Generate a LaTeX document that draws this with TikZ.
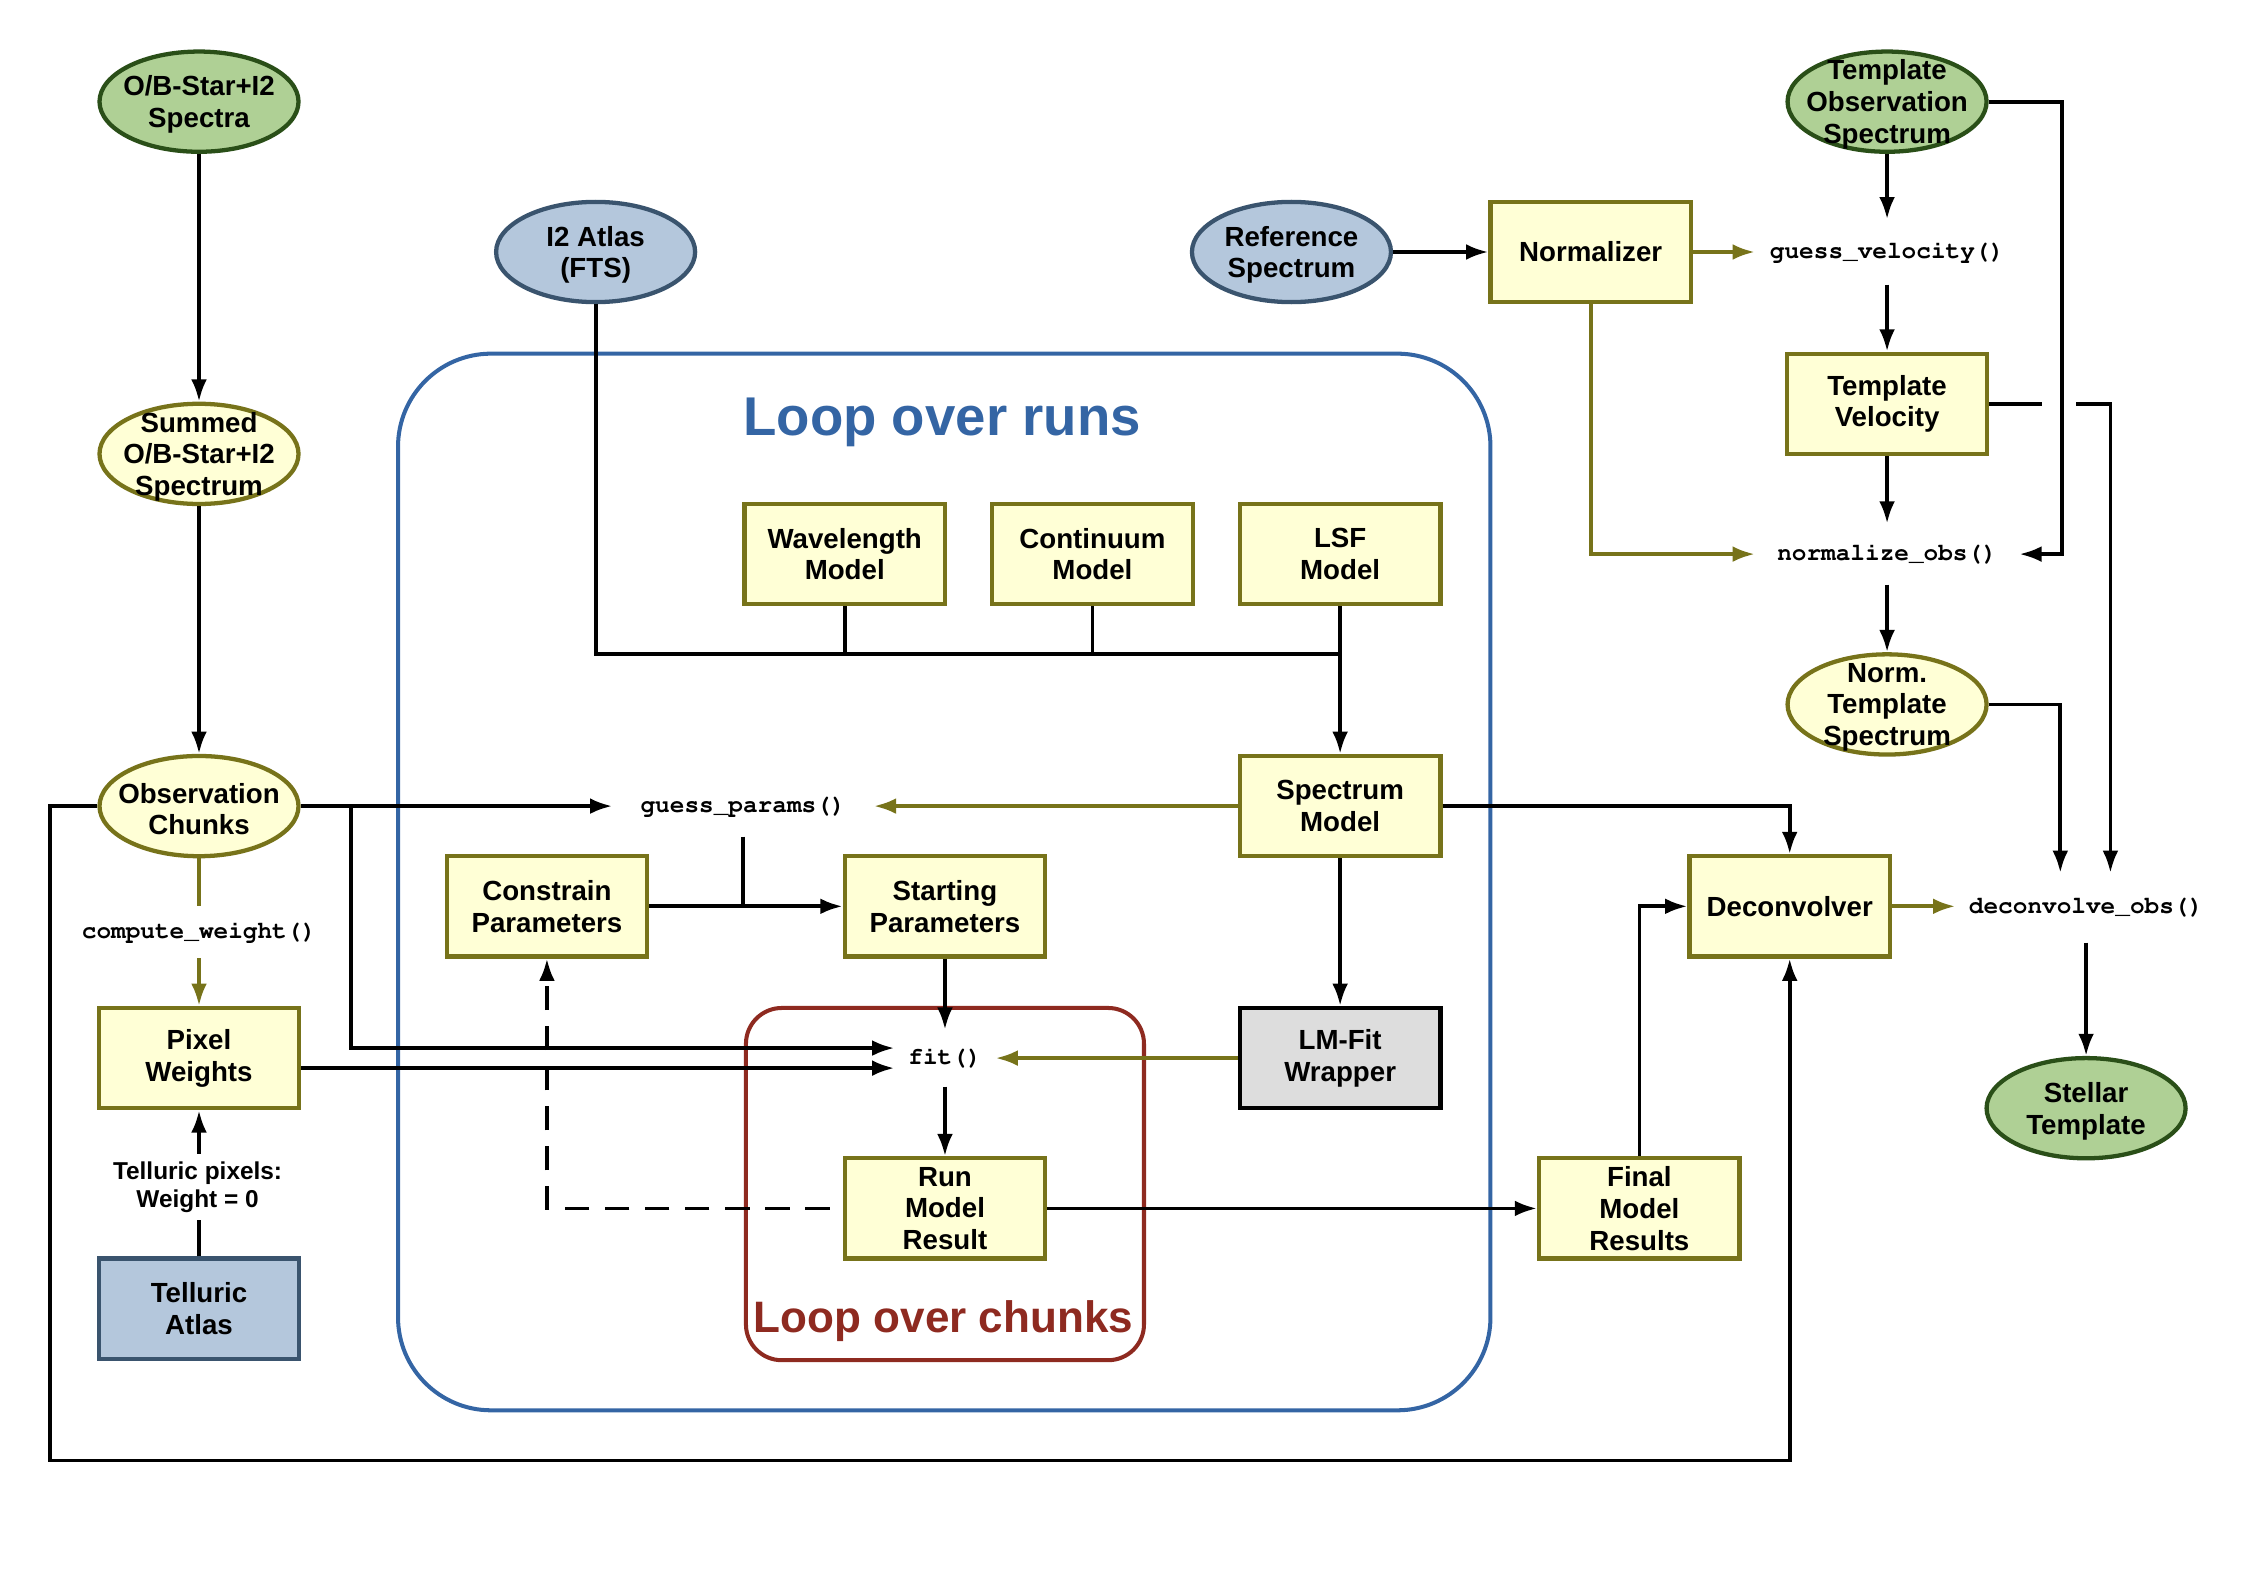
\documentclass[tikz,border=0pt]{standalone}
\usepackage[T1]{fontenc}
\usepackage{fontspec}
\setmainfont{Liberation Sans}
\setmonofont{Liberation Mono}
\usetikzlibrary{arrows.meta,calc,shapes.geometric}

\definecolor{ylwfill}{HTML}{FFFFD6}
\definecolor{olv}{HTML}{77731A}
\definecolor{grnfill}{HTML}{AFD095}
\definecolor{grnline}{HTML}{2A4F18}
\definecolor{bluefill}{HTML}{B4C7DC}
\definecolor{blueline}{HTML}{3A546E}
\definecolor{grayfill}{HTML}{DDDDDD}
\definecolor{runblue}{HTML}{3465A4}
\definecolor{chunkred}{HTML}{8E2A20}

% serif typewriter face for the function names
\newcommand{\codefont}{\fontencoding{T1}\fontfamily{pcr}\fontseries{b}\fontshape{n}\fontsize{9.7}{11}\selectfont}

\begin{document}
\begin{tikzpicture}[x=0.2mm,y=-0.2mm,
  every node/.style={font=\fontsize{11}{12.6}\selectfont\bfseries, align=center},
  box/.style={rectangle, draw=olv, fill=ylwfill, line width=1.7pt,
    minimum width=28mm, minimum height=14mm, inner sep=0pt},
  bluebox/.style={box, draw=blueline, fill=bluefill},
  graybox/.style={box, draw=black, fill=grayfill},
  oval/.style={ellipse, draw=olv, fill=ylwfill, line width=1.7pt,
    minimum width=27.8mm, minimum height=14mm, inner sep=0pt},
  greenoval/.style={oval, draw=grnline, fill=grnfill},
  blueoval/.style={oval, draw=blueline, fill=bluefill},
  ovaltext/.style={inner sep=0pt, yshift=-0.4mm},
  fn/.style={font=\codefont, inner sep=0pt},
  line/.style={draw=black, line width=1.5pt},
  arr/.style={line, -{Latex[length=3.1mm,width=2.2mm]}},
  oline/.style={draw=olv, line width=1.5pt},
  oarr/.style={oline, -{Latex[length=3.1mm,width=2.2mm]}},
  darr/.style={arr, dash pattern=on 3.4mm off 2.2mm},
  loopframe/.style={line width=1.6pt}
]
\useasboundingbox (0,0) rectangle (1568,1108);

% the two loop frames
\draw[loopframe, draw=runblue, rounded corners=13mm] (278,247) rectangle (1041,985);
\draw[loopframe, draw=chunkred, rounded corners=5mm] (521,704) rectangle (799,950);
\node[font=\fontsize{21.7}{24}\selectfont\bfseries, text=runblue] (runsT) at (658,295) {Loop over runs};
\node[font=\fontsize{17.5}{20}\selectfont\bfseries, text=chunkred] (chunksT) at (659,923) {Loop over chunks};

% data ellipses
\node[greenoval, label={[ovaltext]center:O/B-Star+I2\\Spectra}] (obstar) at (139,71) {};
\node[oval, label={[ovaltext]center:Summed\\O/B-Star+I2\\Spectrum}] (summed) at (139,317) {};
\node[oval, label={[ovaltext]center:Observation\\Chunks}] (obs) at (139,563) {};
\node[blueoval, label={[ovaltext]center:I2 Atlas\\(FTS)}] (i2) at (416,176) {};
\node[blueoval, label={[ovaltext]center:Reference\\Spectrum}] (ref) at (902,176) {};
\node[greenoval, label={[ovaltext]center:Template\\Observation\\Spectrum}] (tmpl) at (1318,71) {};
\node[oval, label={[ovaltext]center:Norm.\\Template\\Spectrum}] (ntmpl) at (1318,492) {};
\node[greenoval, label={[ovaltext]center:Stellar\\Template}] (stellar) at (1457,774) {};

% processing boxes
\node[box] (norm) at (1111,176) {Normalizer};
\node[box] (tv) at (1318,282) {Template\\Velocity};
\node[box] (wl) at (590,387) {Wavelength\\Model};
\node[box] (cm) at (763,387) {Continuum\\Model};
\node[box] (lsf) at (936,387) {LSF\\Model};
\node[box] (sm) at (936,563) {Spectrum\\Model};
\node[box] (cp) at (382,633) {Constrain\\Parameters};
\node[box] (sp) at (660,633) {Starting\\Parameters};
\node[graybox] (lm) at (936,739) {LM-Fit\\Wrapper};
\node[box] (rm) at (660,844) {Run\\Model\\Result};
\node[box] (fm) at (1145,844) {Final\\Model\\Results};
\node[box] (dc) at (1250,633) {Deconvolver};
\node[box] (pw) at (139,739) {Pixel\\Weights};
\node[bluebox] (ta) at (139,914) {Telluric\\Atlas};

% function calls
\node[fn, minimum width=36.8mm, minimum height=9mm] (gv) at (1318,176) {guess\_velocity()};
\node[fn, minimum width=36.8mm, minimum height=8.4mm] (no) at (1318,387) {normalize\_obs()};
\node[fn, minimum width=36.4mm, minimum height=8.4mm] (gp) at (519,563) {guess\_params()};
\node[fn, minimum height=7.2mm] (cw) at (139,651) {compute\_weight()};
\node[fn, minimum width=14mm, minimum height=7.8mm] (fit) at (660,739) {fit()};
\node[fn, minimum width=36.4mm, minimum height=9.6mm] (dco) at (1457,634) {deconvolve\_obs()};
\node[font=\fontsize{9.7}{11}\selectfont\bfseries, inner sep=0pt, minimum height=9.2mm] (tl) at (138,829) {Telluric pixels:\\Weight = 0};

% left column
\draw[arr] (obstar.south) -- (summed.north);
\draw[arr] (summed.south) -- (obs.north);
\draw[oline] (obs.south) -- (cw.north);
\draw[oarr] (cw.south) -- (pw.north);
\draw[line] (ta.north) -- (ta.north |- tl.south);
\draw[arr] (ta.north |- tl.north) -- (pw.south);

% observation chunks into the fit
\draw[arr] (obs.east) -- (obs.east -| gp.west);
\draw[arr] ($(obs.east)+(35,0)$) |- ($(fit.west)+(0,-7)$);
\draw[arr] ($(pw.east)+(0,7)$) -- ($(fit.west)+(0,7)$);
\coordinate (loopBL) at (35,1020);
\draw[arr] (obs.west) -| (loopBL) -| (dc.south);

% model components
\coordinate (bus) at (936,457);
\draw[line] (i2.south) |- (bus);
\draw[line] (wl.south) -- (wl.south |- bus);
\draw[line] (cm.south) -- (cm.south |- bus);
\draw[arr] (lsf.south) -- (sm.north);
\draw[oarr] (sm.west) -- (sm.west -| gp.east);
\draw[line] (gp.south) -- (gp.south |- cp.east);
\draw[arr] (cp.east) -- (sp.west);
\draw[arr] (sp.south) -- (fit.north);
\draw[arr] (fit.south) -- (rm.north);
\draw[arr] (sm.south) -- (lm.north);
\draw[oarr] (lm.west) -- (lm.west -| fit.east);
\draw[darr] ($(rm.west)+(-9,0)$) -| (cp.south);
\draw[arr] (rm.east) -- (fm.west);
\draw[arr] (fm.north) |- (dc.west);
\draw[arr] (sm.east) -| (dc.north);

% template branch
\draw[arr] (ref.east) -- (norm.west);
\draw[oarr] (norm.east) -- (norm.east -| gv.west);
\draw[oarr] (norm.south) |- (no.west);
\draw[arr] (tmpl.south) -- (gv.north);
\draw[arr] (gv.south) -- (tv.north);
\draw[arr] (tv.south) -- (no.north);
\draw[arr] (no.south) -- (ntmpl.north);
\draw[arr] (tmpl.east) -- ++(51,0) |- (no.east);
\draw[arr] (ntmpl.east) -| ($(dco.north)+(-18,0)$);
\coordinate (jumpA) at (1426,282);
\coordinate (jumpB) at (1450,282);
\draw[line] (tv.east) -- (jumpA);
\draw[arr] (jumpB) -| ($(dco.north)+(17,0)$);
\draw[oarr] (dc.east) -- (dc.east -| dco.west);
\draw[arr] (dco.south) -- (stellar.north);
\end{tikzpicture}
\end{document}
